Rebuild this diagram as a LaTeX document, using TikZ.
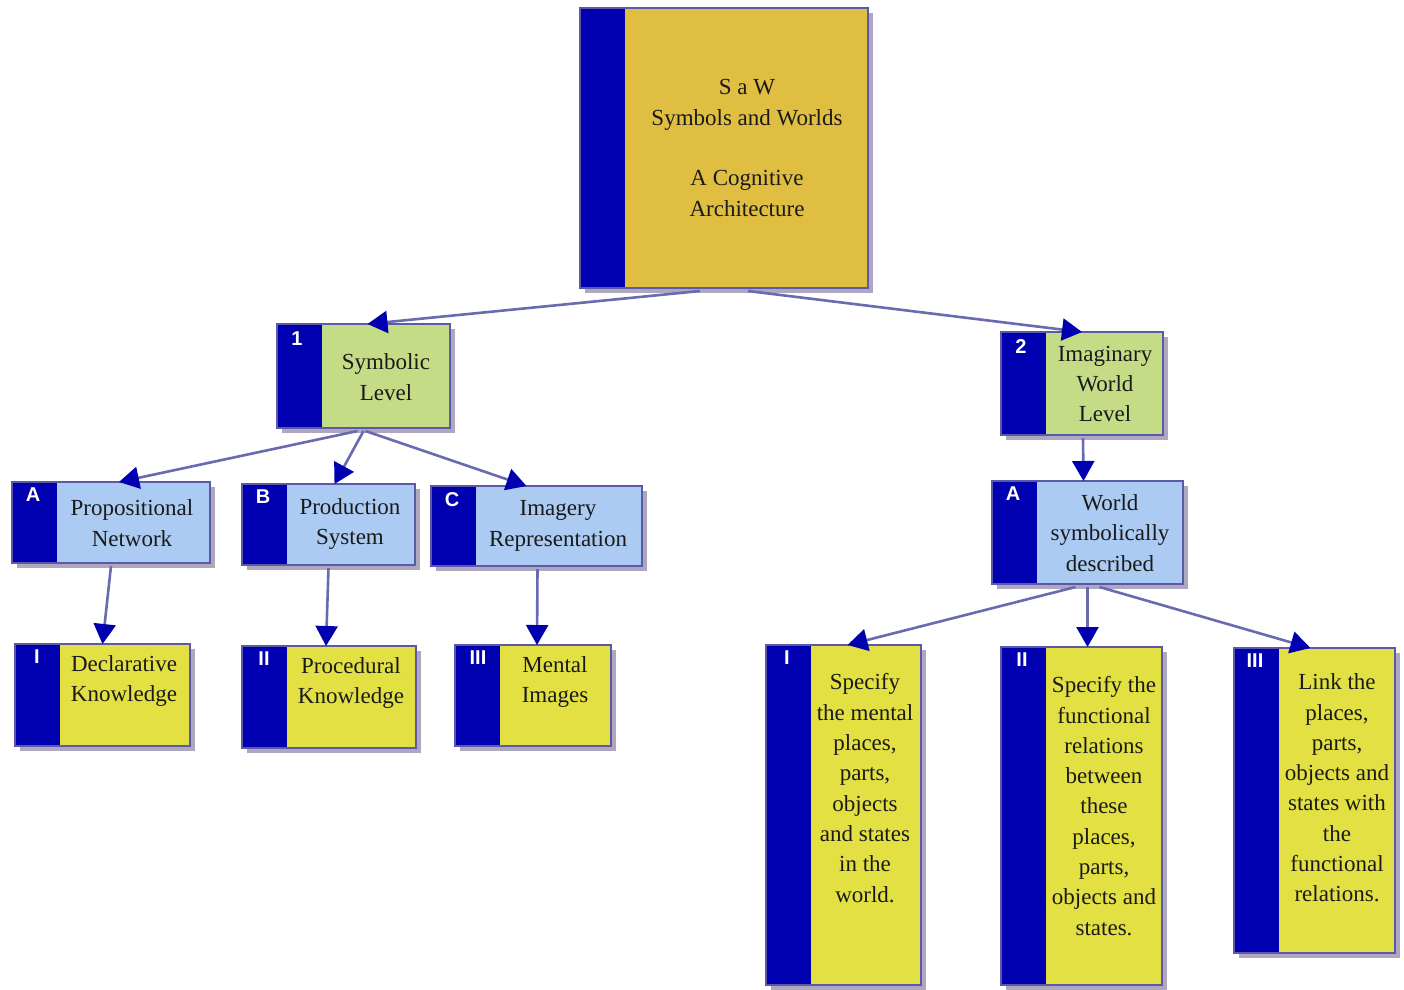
\documentclass[tikz,border=0pt]{standalone}
\usepackage{fontspec}
\setmainfont{Liberation Serif}
\newfontfamily\labfont{Liberation Sans}
\usetikzlibrary{shadows,arrows.meta,calc}
\definecolor{navyc}{HTML}{0000B0}
\definecolor{goldc}{HTML}{E0BE42}
\definecolor{greenc}{HTML}{C4DC86}
\definecolor{bluec}{HTML}{ABCBF2}
\definecolor{yellowc}{HTML}{E2E042}
\definecolor{edgec}{HTML}{5A5AA8}
\definecolor{shadowc}{HTML}{9A92B0}
\definecolor{linec}{HTML}{6A6AB0}
\definecolor{txtc}{HTML}{1A1A1A}
\newcommand\cbox[6]{%
  \node[box, fill=#6, minimum width={(#4-#2)*1pt}, minimum height={(#5-#3)*1pt}]
    (#1) at ({(#2+#4)/2},{(#3+#5)/2}) {};}
\begin{document}
\begin{tikzpicture}[x=1pt,y=-1pt,
  box/.style={draw=edgec, line width=1.2pt, inner sep=0pt, outer sep=0pt,
    drop shadow={shadow xshift=5pt,shadow yshift=-5pt,fill=shadowc,opacity=0.8},
    path picture={\fill[navyc] (path picture bounding box.north west) rectangle ([xshift=45pt]path picture bounding box.south west);}},
  txt/.style={align=center, text=txtc, inner sep=0pt, font=\fontsize{23}{30.3}\selectfont},
  lab/.style={anchor=north, text=white, inner sep=0pt, font=\labfont\bfseries\fontsize{20}{20}\selectfont},
  conn/.style={draw=linec, line width=2.6pt, -{Triangle[length=20pt,width=22pt,fill=navyc,color=navyc]}}
]
\useasboundingbox (0,0) rectangle (1404,989);
\fill[white] (0,0) rectangle (1404,989);
% boxes
\cbox{top}{580}{8}{868}{288}{goldc}
\cbox{sym}{277}{324}{450}{428}{greenc}
\cbox{img}{1001}{332}{1163}{435}{greenc}
\cbox{pn}{12}{482}{210}{563}{bluec}
\cbox{ps}{242}{484}{415}{565}{bluec}
\cbox{ir}{431}{486}{642}{566}{bluec}
\cbox{wsd}{992}{481}{1183}{584}{bluec}
\cbox{dk}{15}{644}{190}{746}{yellowc}
\cbox{pk}{242}{646}{416}{748}{yellowc}
\cbox{mi}{455}{645}{611}{746}{yellowc}
\cbox{s1}{766}{645}{921}{985}{yellowc}
\cbox{s2}{1001}{647}{1162}{985}{yellowc}
\cbox{s3}{1234}{648}{1395}{953}{yellowc}
% texts
\node[txt] (t-top) at (747,148) {S a W\\Symbols and Worlds\\[30.3pt]A Cognitive\\Architecture};
\node[txt] (t-sym) at (386,377) {Symbolic\\Level};
\node[txt] (t-img) at (1105,384) {Imaginary\\World\\Level};
\node[txt] (t-pn) at (132,523) {Propositional\\Network};
\node[txt] (t-ps) at (350,524) {Production\\System};
\node[txt] (t-ir) at (558,526) {Imagery\\Representation};
\node[txt] (t-wsd) at (1110,533) {World\\symbolically\\described};
\node[txt] (t-dk) at (124,681) {Declarative\\Knowledge};
\node[txt] (t-pk) at (351,683) {Procedural\\Knowledge};
\node[txt] (t-mi) at (555,682) {Mental\\Images};
\node[txt] (t-s1) at (865,788) {Specify\\the mental\\places,\\parts,\\objects\\and states\\in the\\world.};
\node[txt] (t-s2) at (1104,806) {Specify the\\functional\\relations\\between\\these\\places,\\parts,\\objects and\\states.};
\node[txt] (t-s3) at (1337,788) {Link the\\places,\\parts,\\objects and\\states with\\the\\functional\\relations.};
% labels
\node[lab] (l-sym) at ([xshift=20pt,yshift=-8pt]sym.north west) {1};
\node[lab] (l-img) at ([xshift=20pt,yshift=-7pt]img.north west) {2};
\node[lab] (l-pn) at ([xshift=21pt,yshift=-6pt]pn.north west) {A};
\node[lab] (l-ps) at ([xshift=21pt,yshift=-6pt]ps.north west) {B};
\node[lab] (l-ir) at ([xshift=21pt,yshift=-6pt]ir.north west) {C};
\node[lab] (l-wsd) at ([xshift=21pt,yshift=-6pt]wsd.north west) {A};
\node[lab] (l-dk) at ([xshift=22pt,yshift=-6pt]dk.north west) {I};
\node[lab] (l-pk) at ([xshift=22pt,yshift=-6pt]pk.north west) {II};
\node[lab] (l-mi) at ([xshift=23pt,yshift=-6pt]mi.north west) {III};
\node[lab] (l-s1) at ([xshift=21pt,yshift=-6pt]s1.north west) {I};
\node[lab] (l-s2) at ([xshift=21pt,yshift=-6pt]s2.north west) {II};
\node[lab] (l-s3) at ([xshift=21pt,yshift=-6pt]s3.north west) {III};
% connectors
\draw[conn] ([xshift=-24pt,yshift=-3pt]top.south) -- ([xshift=4pt]sym.north);
\draw[conn] ([xshift=24pt,yshift=-3pt]top.south) -- (img.north);
\draw[conn] ([xshift=-6pt,yshift=-3pt]sym.south) -- ([xshift=8pt]pn.north);
\draw[conn] ([xshift=0pt,yshift=-3pt]sym.south) -- ([xshift=6pt]ps.north);
\draw[conn] ([xshift=2pt,yshift=-3pt]sym.south) -- ([xshift=-10pt]ir.north);
\draw[conn] ([yshift=-3pt]pn.south) -- (dk.north);
\draw[conn] ([yshift=-3pt]ps.south) -- ([xshift=-3pt]pk.north);
\draw[conn] ([xshift=1pt,yshift=-3pt]ir.south) -- ([xshift=4pt]mi.north);
\draw[conn] ([xshift=1pt,yshift=-3pt]img.south) -- ([xshift=-4pt]wsd.north);
\draw[conn] ([xshift=-12pt,yshift=-3pt]wsd.south) -- ([xshift=4pt]s1.north);
\draw[conn] ([xshift=0pt,yshift=-3pt]wsd.south) -- ([xshift=6pt]s2.north);
\draw[conn] ([xshift=12pt,yshift=-3pt]wsd.south) -- ([xshift=-4pt]s3.north);
\end{tikzpicture}
\end{document}
